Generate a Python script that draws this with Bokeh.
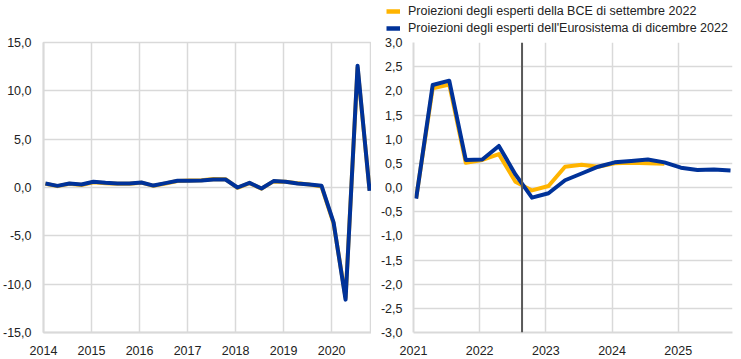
from bokeh.plotting import figure
from bokeh.models import Range1d, FixedTicker, CustomJSTickFormatter, Span, Legend, LegendItem
from bokeh.layouts import row, column
from bokeh.embed import file_html
from bokeh.resources import INLINE

# ---------------- data ----------------
left_start_year = 2014
left_years = [2014, 2015, 2016, 2017, 2018, 2019, 2020]
left_dec = [0.41, 0.17, 0.41, 0.31,
            0.59, 0.48, 0.41, 0.41,
            0.52, 0.20, 0.45, 0.69,
            0.69, 0.72, 0.83, 0.83,
            0.00, 0.48, -0.10, 0.66,
            0.59, 0.41, 0.31, 0.17,
            -3.6, -11.6, 12.6, -0.35]
left_sep = [0.38, 0.14, 0.38, 0.26,
            0.55, 0.45, 0.38, 0.38,
            0.50, 0.17, 0.42, 0.67,
            0.72, 0.76, 0.87, 0.86,
            -0.03, 0.45, -0.12, 0.63,
            0.60, 0.45, 0.30, 0.10,
            -3.7, -11.4, 12.4, -0.30]

right_start_year = 2021
right_years = [2021, 2022, 2023, 2024, 2025]
right_dec = [-0.23, 2.12, 2.21, 0.57,
             0.58, 0.86, 0.27, -0.21,
             -0.12, 0.15, 0.29, 0.43,
             0.52, 0.55, 0.58, 0.52,
             0.41, 0.36, 0.37, 0.35]
right_sep = [-0.22, 2.05, 2.13, 0.51,
             0.57, 0.69, 0.12, -0.06,
             0.03, 0.43, 0.47, 0.43,
             0.50, 0.51, 0.50, 0.49]

left_yticks = [-15, -10, -5, 0, 5, 10, 15]
right_yticks = [-3, -2.5, -2, -1.5, -1, -0.5, 0, 0.5, 1, 1.5, 2, 2.5, 3]
cutoff = 2022.64

label_sep = "Proiezioni degli esperti della BCE di settembre 2022"
label_dec = "Proiezioni degli esperti dell'Eurosistema di dicembre 2022"

# ---------------- style ----------------
BLUE = "#003299"
YELLOW = "#ffb400"
GRID = "#d9d9d9"
TEXT = "#222222"
FONT = "Liberation Sans"
FSIZE = "12.5px"
QOFF = 0.04  # position of a quarter's point within its period


def qx(start, n):
    return [start + i / 4 + QOFF for i in range(n)]


fmt = CustomJSTickFormatter(code="return tick.toFixed(1).replace('.', ',');")


def style(p, years, yticks, standoff):
    p.xaxis.ticker = FixedTicker(ticks=years)
    p.yaxis.ticker = FixedTicker(ticks=yticks)
    p.yaxis.formatter = fmt
    for ax in (p.xaxis[0], p.yaxis[0]):
        ax.axis_line_color = GRID
        ax.axis_line_width = 2
        ax.major_tick_line_color = None
        ax.minor_tick_line_color = None
        ax.major_label_text_font = FONT
        ax.major_label_text_font_size = FSIZE
        ax.major_label_text_color = TEXT
    p.yaxis.major_label_standoff = standoff
    p.xaxis.major_label_standoff = 7
    p.xgrid.grid_line_color = GRID
    p.ygrid.grid_line_color = GRID
    p.xgrid.grid_line_width = 1.5
    p.ygrid.grid_line_width = 1.5
    p.background_fill_color = "white"
    p.border_fill_color = "white"


# ---------------- legend strip (same series, outside its view) ----------------
pg = figure(width=733, height=36, output_backend="svg", toolbar_location=None,
            x_axis_location=None, y_axis_location=None,
            x_range=Range1d(0, 1), y_range=Range1d(0, 1),
            min_border=0, min_border_left=0, min_border_right=0, min_border_top=0, min_border_bottom=0)
pg.xgrid.visible = False
pg.ygrid.visible = False
pg.outline_line_color = None
pg.border_fill_color = "white"
g_sep = pg.line(qx(right_start_year, len(right_sep)), right_sep, line_color=YELLOW, line_width=4.5)
g_dec = pg.line(qx(right_start_year, len(right_dec)), right_dec, line_color=BLUE, line_width=4.5)
legend = Legend(items=[LegendItem(label=label_sep, renderers=[g_sep]),
                       LegendItem(label=label_dec, renderers=[g_dec])],
                location=(386, 0), orientation="vertical", padding=0, margin=0, spacing=1,
                glyph_width=14, glyph_height=16, label_height=16, label_standoff=8,
                label_text_font=FONT, label_text_font_size=FSIZE, label_text_color=TEXT,
                border_line_color=None, background_fill_alpha=0)
pg.add_layout(legend)

# ---------------- left panel ----------------
pl = figure(frame_width=328, frame_height=290, output_backend="svg", toolbar_location=None,
            x_range=Range1d(2014, 2020.83), y_range=Range1d(-15, 15),
            min_border_left=35, min_border_right=0, min_border_top=6, min_border_bottom=25)
style(pl, left_years, left_yticks, 6)
pl.outline_line_color = GRID
pl.outline_line_width = 1.5
pl.line(qx(left_start_year, len(left_sep)), left_sep, line_color=YELLOW, line_width=4, line_join="round")
pl.line(qx(left_start_year, len(left_dec)), left_dec, line_color=BLUE, line_width=4, line_join="round")

# ---------------- right panel ----------------
pr = figure(frame_width=319, frame_height=290, output_backend="svg", toolbar_location=None,
            x_range=Range1d(2021, 2025.82), y_range=Range1d(-3, 3),
            min_border_left=42, min_border_right=1, min_border_top=6, min_border_bottom=25)
style(pr, right_years, right_yticks, 5)
pr.outline_line_color = None
pr.line(qx(right_start_year, len(right_sep)), right_sep, line_color=YELLOW, line_width=4, line_join="round")
pr.line(qx(right_start_year, len(right_dec)), right_dec, line_color=BLUE, line_width=4, line_join="round")
pr.add_layout(Span(location=cutoff, dimension="height", line_color="#595959", line_width=2))

layout = column(pg, row(pl, pr))
open("out.html", "w").write(file_html(layout, INLINE))
